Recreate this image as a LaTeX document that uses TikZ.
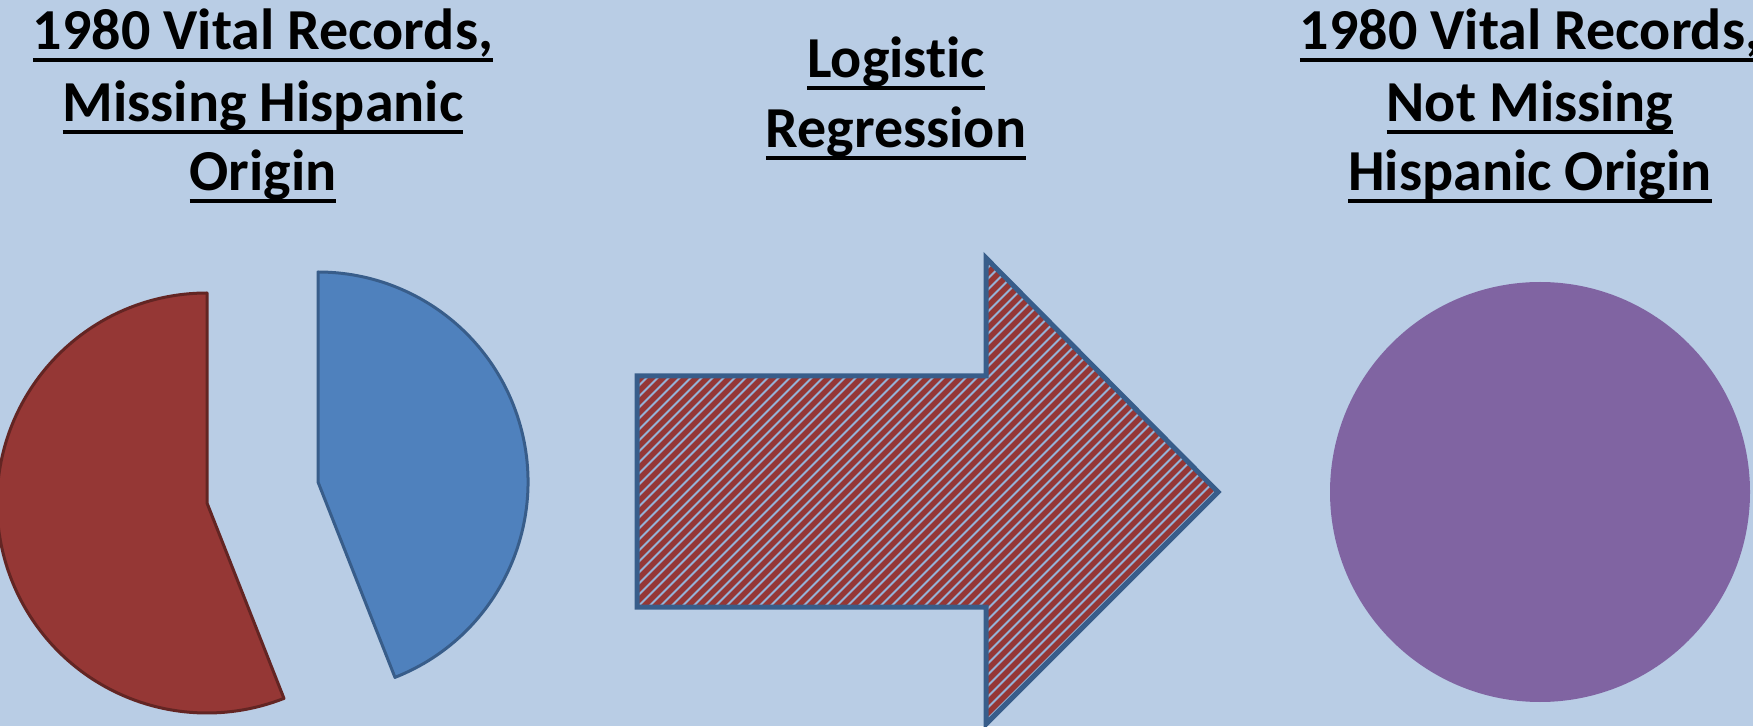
\documentclass[tikz,border=0pt]{standalone}
\usepackage{fontspec}
\setmainfont[Ligatures={NoCommon,NoRare,NoDiscretionary,NoHistoric}]{Carlito}
\newsavebox\ulbox
\newcommand\ulline[1]{\sbox\ulbox{#1}\rlap{\rule[-12.5pt]{\wd\ulbox}{4pt}}\usebox\ulbox}
\definecolor{bgblue}{HTML}{B9CDE5}
\definecolor{piered}{HTML}{953735}
\definecolor{pieredline}{HTML}{632523}
\definecolor{pieblue}{HTML}{4F81BD}
\definecolor{pieblueline}{HTML}{385D8A}
\definecolor{purplec}{HTML}{8064A2}
\definecolor{stripeblue}{HTML}{95B3D7}
\tikzset{
  title/.style={inner sep=0pt, anchor=base, font=\fontsize{58}{70}\selectfont\bfseries, text=black},
  redslice/.style={fill=piered, draw=pieredline, line width=3pt, line join=round},
  blueslice/.style={fill=pieblue, draw=pieblueline, line width=3pt, line join=round},
  stripe/.style={draw=piered, line width=5.4pt},
  arrowline/.style={draw=pieblueline, line width=5pt, line join=miter},
}
\begin{document}
\begin{tikzpicture}[x=1pt,y=1pt]
\useasboundingbox (0,0) rectangle (1753,726);
\clip (0,0) rectangle (1753,726);
\fill[bgblue] (0,0) rectangle (1753,726);

% titles
\node[title] (l1) at (263,676) {\ulline{1980 Vital Records,}};
\node[title] (l2) at (263,604) {\ulline{Missing Hispanic}};
\node[title] (l3) at (263,535) {\ulline{Origin}};
\node[title] (m1) at (896,648) {\ulline{Logistic}};
\node[title] (m2) at (896,578) {\ulline{Regression}};
\node[title] (r1) at (1530,676) {\ulline{1980 Vital Records,}};
\node[title] (r2) at (1530,604) {\ulline{Not Missing}};
\node[title] (r3) at (1530,535) {\ulline{Hispanic Origin}};

% exploded pie
\coordinate (rc) at (207,223);
\coordinate (bc) at (318,244);
\draw[redslice] (rc) -- ++(90:210pt) arc[start angle=90, end angle=291.5, radius=210pt] -- cycle;
\draw[blueslice] (bc) -- ++(-68.5:210pt) arc[start angle=-68.5, end angle=90, radius=210pt] -- cycle;

% striped block arrow
\coordinate (a1) at (637,350);
\coordinate (a2) at (986,350);
\coordinate (a3) at (986,468);
\coordinate (a4) at (1218,234);
\coordinate (a5) at (986,2);
\coordinate (a6) at (986,119);
\coordinate (a7) at (637,119);
\begin{scope}
  \clip (a1) -- (a2) -- (a3) -- (a4) -- (a5) -- (a6) -- (a7) -- cycle;
  \fill[stripeblue] (600,-20) rectangle (1240,500);
  \foreach \c in {150,161,...,1240} {
    \draw[stripe] ({\c-20},-20) -- ({\c+500},500);
  }
\end{scope}
\draw[arrowline] (a1) -- (a2) -- (a3) -- (a4) -- (a5) -- (a6) -- (a7) -- cycle;

% result circle
\fill[purplec] (1540,234) circle[radius=210pt];
\end{tikzpicture}
\end{document}
